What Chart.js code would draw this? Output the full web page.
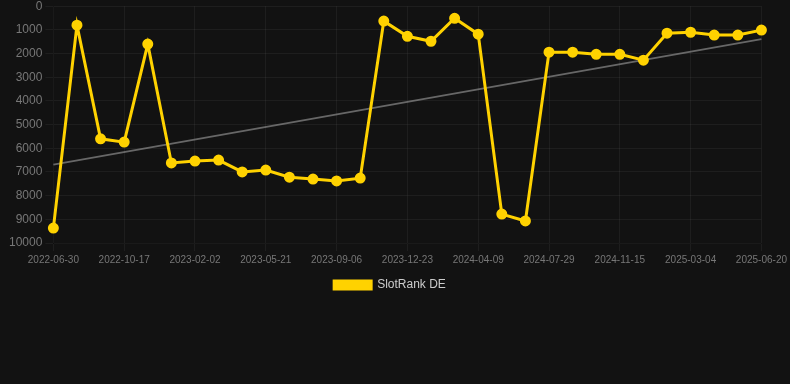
<!DOCTYPE html>
<html lang="en">
<head>
  <meta charset="UTF-8">
  <title>SlotRank DE</title>
  <script src="https://cdn.jsdelivr.net/npm/chart.js"></script>
  <style>
    html, body {
      margin: 0;
      padding: 0;
      background: #121212;
      font-family: Arial, "Liberation Sans", sans-serif;
      overflow: hidden;
    }
    #chart-container {
      width: 790px;
      height: 305px;
      margin-top: -4px;
    }
  </style>
</head>
<body>
  <div id="chart-container">
    <canvas id="rankChart"></canvas>
  </div>

  <script>
    const dates = [
      "2022-06-30", "2022-08-05", "2022-09-11", "2022-10-17", "2022-11-22", "2022-12-28",
      "2023-02-02", "2023-03-10", "2023-04-15", "2023-05-21", "2023-06-26", "2023-08-01",
      "2023-09-06", "2023-10-12", "2023-11-17", "2023-12-23", "2024-01-28", "2024-03-04",
      "2024-04-09", "2024-05-16", "2024-06-22", "2024-07-29", "2024-09-04", "2024-10-09",
      "2024-11-15", "2024-12-21", "2025-01-27", "2025-03-04", "2025-04-09", "2025-05-15",
      "2025-06-20"
    ];
    const rankDE = [
      9370, 800, 5600, 5740, 1600, 6620,
      6540, 6500, 7000, 6920, 7220, 7300,
      7380, 7260, 630, 1270, 1480, 510,
      1180, 8780, 9070, 1940, 1940, 2030,
      2030, 2280, 1140, 1100, 1220, 1220,
      1010
    ];
    // trend line, start and end values
    const trendStart = 6690;
    const trendEnd = 1390;
    const yTicks = [0, 1000, 2000, 3000, 4000, 5000, 6000, 7000, 8000, 9000, 10000];

    const trend = dates.map((d, i) => i === 0 ? trendStart : (i === dates.length - 1 ? trendEnd : null));

    // nudge the legend a bit to the left
    const legendShift = {
      id: "legendShift",
      afterLayout(chart) {
        if (chart.legend) {
          chart.legend.left -= 8;
          chart.legend.right -= 8;
        }
      }
    };

    const ctx = document.getElementById("rankChart").getContext("2d");
    new Chart(ctx, {
      type: "line",
      data: {
        labels: dates,
        datasets: [
          {
            label: "SlotRank DE",
            data: rankDE,
            borderColor: "#ffd200",
            backgroundColor: "#ffd200",
            borderWidth: 3,
            pointRadius: 4,
            pointHoverRadius: 5,
            tension: 0
          },
          {
            label: "trend",
            data: trend,
            borderColor: "rgba(160,160,160,0.6)",
            borderWidth: 2,
            pointRadius: 0,
            spanGaps: true
          }
        ]
      },
      plugins: [legendShift],
      options: {
        responsive: true,
        maintainAspectRatio: false,
        animation: false,
        layout: { padding: { left: 6 } },
        plugins: {
          legend: {
            position: "bottom",
            labels: {
              color: "#cccccc",
              font: { size: 12 },
              boxWidth: 37,
              boxHeight: 8,
              filter: item => item.text !== "trend"
            }
          },
          tooltip: { enabled: false }
        },
        scales: {
          x: {
            grid: { color: "rgba(255,255,255,0.05)" },
            ticks: {
              color: "#777777",
              font: { size: 10 },
              maxRotation: 0,
              callback: function (val, idx) {
                return idx % 3 === 0 ? this.getLabelForValue(val) : null;
              }
            }
          },
          y: {
            reverse: true,
            min: 0,
            max: 10000,
            grid: { color: "rgba(255,255,255,0.05)" },
            afterBuildTicks: axis => { axis.ticks = yTicks.map(v => ({ value: v })); },
            ticks: {
              color: "#777777",
              font: { size: 12 },
              callback: v => String(v)
            }
          }
        }
      }
    });
  </script>
</body>
</html>
